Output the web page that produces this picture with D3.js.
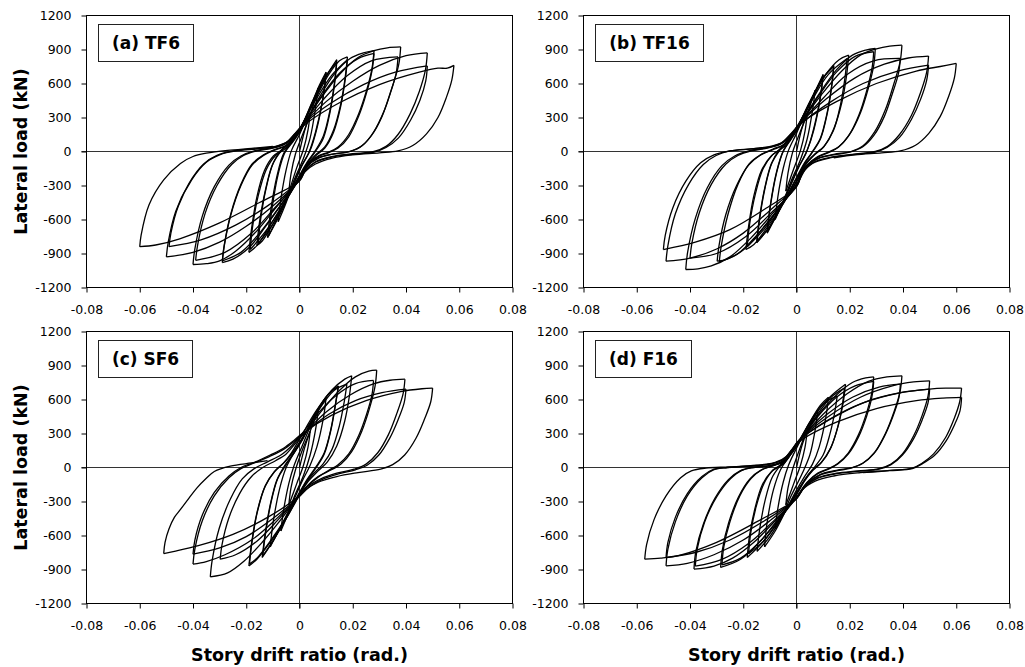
<!DOCTYPE html>
<html lang="en">
<head>
<meta charset="utf-8">
<title>Hysteresis curves</title>
<script src="https://d3js.org/d3.v7.min.js"></script>
<style>
  body { margin: 0; background: #fff; }
  svg { display: block; }
  text { font-family: "DejaVu Sans", Verdana, sans-serif; fill: #000; }
  .tick text { font-size: 12.5px; }
  .tick line { stroke: #000; }
  .axis-title, .panel-label { font-weight: bold; }
</style>
</head>
<body>
<div id="chart"></div>
<script>

// axis ticks
const xTicks = [-0.08, -0.06, -0.04, -0.02, 0, 0.02, 0.04, 0.06, 0.08];
const yTicks = [-1200, -900, -600, -300, 0, 300, 600, 900, 1200];
const panelLabels = ["(a) TF6", "(b) TF16", "(c) SF6", "(d) F16"];
const xTitle = "Story drift ratio (rad.)";
const yTitle = "Lateral load (kN)";

// each branch runs from one load reversal to the next: [drift (rad), load (kN)]
const tf6 = [
  [[0,0],[0.002,190],[0.004,340]],
  [[0.0032,190],[0.0015,20],[-0.001,-140],[-0.004,-360]],
  [[-0.0032,-200],[-0.0015,-20],[0.001,140],[0.004,320],[0.007,560]],
  [[0.006,380],[0.004,120],[0.0015,-60],[-0.002,-250],[-0.005,-450],[-0.008,-620]],
  [[-0.007,-420],[-0.005,-160],[-0.003,10],[0,150],[0.004,380],[0.007,560],[0.010,700]],
  [[0.009,500],[0.0065,200],[0.004,10],[0.001,-120],[-0.003,-330],[-0.007,-540],[-0.012,-760]],
  [[-0.0108,-520],[-0.0085,-220],[-0.006,-20],[-0.003,80],[0,180],[0.005,450],[0.010,690]],
  [[0.0088,470],[0.006,170],[0.0035,-10],[0.0005,-140],[-0.004,-380],[-0.008,-570],[-0.0115,-740]],
  [[-0.0103,-500],[-0.008,-200],[-0.0055,-10],[-0.002,100],[0.001,210],[0.006,480],[0.011,700],[0.014,810]],
  [[0.0132,620],[0.0115,370],[0.009,140],[0.006,10],[0.003,-90],[0,-210],[-0.005,-420],[-0.010,-640],[-0.014,-790],[-0.016,-830]],
  [[-0.015,-620],[-0.0128,-340],[-0.0102,-120],[-0.007,10],[-0.003,90],[0,190],[0.005,440],[0.010,670],[0.014,790]],
  [[0.0132,600],[0.0115,350],[0.009,120],[0.006,0],[0.003,-100],[0,-220],[-0.005,-430],[-0.010,-640],[-0.0155,-810]],
  [[-0.0146,-600],[-0.0125,-320],[-0.0098,-100],[-0.0065,15],[-0.003,95],[0,195],[0.005,420],[0.011,680],[0.015,800],[0.018,835]],
  [[0.0172,660],[0.0155,420],[0.0128,190],[0.0095,40],[0.006,-30],[0.003,-110],[0,-230],[-0.005,-430],[-0.011,-650],[-0.016,-830],[-0.019,-890]],
  [[-0.018,-680],[-0.016,-400],[-0.0132,-170],[-0.0098,-40],[-0.006,25],[-0.003,90],[0,200],[0.006,450],[0.012,670],[0.018,810]],
  [[0.0172,640],[0.0155,400],[0.0128,170],[0.0095,30],[0.006,-40],[0.003,-120],[0,-240],[-0.006,-460],[-0.012,-680],[-0.0185,-865]],
  [[-0.0176,-660],[-0.0155,-390],[-0.0125,-160],[-0.009,-35],[-0.005,30],[-0.002,110],[0.001,210],[0.007,460],[0.013,680],[0.019,820],[0.024,870],[0.028,890]],
  [[0.0272,730],[0.0252,540],[0.0222,330],[0.0185,150],[0.0145,40],[0.011,-5],[0.007,-40],[0.003,-110],[0,-230],[-0.006,-440],[-0.013,-670],[-0.019,-850],[-0.025,-950],[-0.029,-980]],
  [[-0.0283,-840],[-0.0258,-560],[-0.022,-300],[-0.0178,-120],[-0.0135,-35],[-0.009,15],[-0.005,50],[-0.002,130],[0.001,220],[0.008,480],[0.015,690],[0.022,820],[0.028,865]],
  [[0.0272,710],[0.0252,520],[0.0222,310],[0.0185,130],[0.0145,30],[0.011,-10],[0.007,-45],[0.003,-120],[0,-240],[-0.007,-470],[-0.015,-720],[-0.022,-890],[-0.029,-965]],
  [[-0.0283,-830],[-0.0258,-550],[-0.022,-290],[-0.0178,-110],[-0.0135,-30],[-0.009,20],[-0.005,55],[-0.002,140],[0.001,225],[0.008,470],[0.015,680],[0.022,830],[0.028,890],[0.033,915],[0.038,923]],
  [[0.0373,770],[0.035,580],[0.0318,360],[0.0278,170],[0.0235,50],[0.019,0],[0.013,-20],[0.007,-55],[0.003,-120],[0,-240],[-0.008,-470],[-0.016,-700],[-0.024,-880],[-0.03,-965],[-0.035,-990],[-0.04,-997]],
  [[-0.0393,-860],[-0.0365,-570],[-0.032,-310],[-0.0265,-120],[-0.022,-40],[-0.017,5],[-0.011,30],[-0.006,60],[-0.002,150],[0.001,230],[0.009,460],[0.018,670],[0.027,800],[0.037,835]],
  [[0.0363,690],[0.034,510],[0.031,310],[0.027,140],[0.0228,40],[0.018,-5],[0.012,-25],[0.007,-60],[0.003,-130],[0,-250],[-0.009,-490],[-0.018,-720],[-0.028,-890],[-0.039,-960]],
  [[-0.0383,-830],[-0.0355,-550],[-0.031,-300],[-0.0255,-115],[-0.021,-35],[-0.016,5],[-0.01,30],[-0.005,70],[-0.002,150],[0.001,230],[0.01,440],[0.02,620],[0.03,760],[0.04,845],[0.048,870]],
  [[0.0473,720],[0.045,530],[0.0415,330],[0.037,150],[0.0325,45],[0.028,0],[0.02,-20],[0.012,-45],[0.006,-90],[0.002,-170],[0,-250],[-0.01,-480],[-0.02,-660],[-0.03,-800],[-0.04,-890],[-0.05,-930]],
  [[-0.0493,-800],[-0.0465,-530],[-0.0415,-280],[-0.036,-110],[-0.031,-35],[-0.025,5],[-0.016,25],[-0.009,45],[-0.004,90],[-0.001,170],[0.002,250],[0.012,430],[0.024,590],[0.036,700],[0.048,755]],
  [[0.0474,620],[0.0452,450],[0.0418,280],[0.0372,120],[0.0325,35],[0.028,-5],[0.02,-25],[0.012,-50],[0.006,-95],[0.002,-180],[0,-255],[-0.012,-480],[-0.024,-650],[-0.037,-780],[-0.049,-840]],
  [[-0.0483,-720],[-0.0455,-480],[-0.0405,-250],[-0.035,-95],[-0.03,-30],[-0.024,5],[-0.015,25],[-0.008,50],[-0.003,110],[0,190],[0.003,255],[0.015,430],[0.03,590],[0.045,700],[0.052,735],[0.0555,735],[0.058,760]],
  [[0.0572,630],[0.0552,480],[0.052,300],[0.0477,155],[0.0427,55],[0.037,5],[0.03,-12],[0.02,-30],[0.012,-60],[0.006,-110],[0.002,-180],[0,-260],[-0.015,-450],[-0.03,-630],[-0.045,-770],[-0.054,-825],[-0.06,-840]],
  [[-0.0595,-740],[-0.0565,-470],[-0.051,-250],[-0.0447,-105],[-0.04,-44],[-0.035,-15],[-0.027,10],[-0.018,28],[-0.01,45]]
];

const tf16 = [
  [[0,0],[0.002,200],[0.004,330]],
  [[0.0032,180],[0.0015,10],[-0.001,-150],[-0.004,-350]],
  [[-0.0032,-190],[-0.0015,-10],[0.001,150],[0.004,330],[0.007,540]],
  [[0.006,360],[0.004,110],[0.0015,-70],[-0.002,-260],[-0.005,-440],[-0.008,-600]],
  [[-0.007,-400],[-0.005,-150],[-0.003,10],[0,160],[0.005,430],[0.010,680]],
  [[0.009,480],[0.0065,190],[0.004,10],[0.001,-130],[-0.003,-340],[-0.007,-540],[-0.011,-720]],
  [[-0.0098,-480],[-0.0075,-190],[-0.005,0],[-0.002,110],[0.001,220],[0.006,470],[0.010,670]],
  [[0.0088,460],[0.006,160],[0.0035,-20],[0.0005,-150],[-0.004,-390],[-0.008,-580],[-0.011,-710]],
  [[-0.0098,-470],[-0.0075,-180],[-0.005,5],[-0.002,115],[0.001,225],[0.006,480],[0.011,680],[0.014,760]],
  [[0.0132,580],[0.0115,340],[0.009,120],[0.006,0],[0.003,-100],[0,-230],[-0.005,-450],[-0.010,-660],[-0.015,-806]],
  [[-0.014,-600],[-0.012,-330],[-0.0095,-110],[-0.0065,15],[-0.003,100],[0,200],[0.005,440],[0.010,650],[0.014,750]],
  [[0.0132,570],[0.0115,330],[0.009,110],[0.006,-5],[0.003,-110],[0,-240],[-0.005,-460],[-0.010,-660],[-0.0148,-800]],
  [[-0.0138,-590],[-0.0118,-320],[-0.0092,-100],[-0.006,20],[-0.003,105],[0,205],[0.005,430],[0.011,680],[0.016,810],[0.0196,850]],
  [[0.0188,670],[0.017,430],[0.014,200],[0.0105,50],[0.007,-20],[0.003,-120],[0,-260],[-0.005,-460],[-0.011,-670],[-0.016,-820],[-0.019,-865]],
  [[-0.018,-660],[-0.016,-390],[-0.013,-160],[-0.0095,-40],[-0.006,25],[-0.003,100],[0,210],[0.006,460],[0.012,680],[0.019,820]],
  [[0.0182,650],[0.0165,410],[0.0138,180],[0.0102,40],[0.007,-25],[0.003,-130],[0,-270],[-0.006,-480],[-0.012,-680],[-0.0185,-840]],
  [[-0.0176,-640],[-0.0155,-380],[-0.0125,-150],[-0.009,-30],[-0.005,35],[-0.002,120],[0.001,225],[0.008,490],[0.015,720],[0.021,850],[0.026,895],[0.0296,909]],
  [[0.029,760],[0.027,560],[0.024,340],[0.0202,160],[0.016,45],[0.012,-5],[0.008,-45],[0.004,-120],[0,-290],[-0.006,-480],[-0.013,-690],[-0.02,-870],[-0.026,-950],[-0.0298,-968]],
  [[-0.0291,-830],[-0.0266,-560],[-0.0225,-300],[-0.018,-120],[-0.0138,-35],[-0.009,15],[-0.005,55],[-0.002,140],[0.001,230],[0.008,480],[0.015,700],[0.022,840],[0.029,880]],
  [[0.0284,740],[0.0264,540],[0.0234,320],[0.0196,140],[0.0156,35],[0.012,-10],[0.008,-50],[0.004,-130],[0,-300],[-0.007,-510],[-0.015,-740],[-0.022,-900],[-0.029,-975]],
  [[-0.0283,-840],[-0.0258,-560],[-0.022,-290],[-0.0178,-110],[-0.0135,-30],[-0.009,20],[-0.005,60],[-0.002,145],[0.001,235],[0.009,490],[0.017,710],[0.024,850],[0.03,905],[0.035,930],[0.0396,938]],
  [[0.0389,790],[0.0366,600],[0.0334,370],[0.0294,175],[0.025,50],[0.0205,0],[0.014,-25],[0.008,-60],[0.003,-140],[0,-300],[-0.008,-520],[-0.017,-760],[-0.025,-930],[-0.032,-1010],[-0.037,-1035],[-0.0416,-1041]],
  [[-0.0409,-890],[-0.038,-590],[-0.0335,-320],[-0.028,-125],[-0.0232,-40],[-0.018,5],[-0.012,30],[-0.006,65],[-0.002,155],[0.001,240],[0.01,470],[0.019,680],[0.029,800],[0.039,821]],
  [[0.0383,690],[0.036,510],[0.033,310],[0.029,140],[0.0248,40],[0.02,-5],[0.014,-30],[0.008,-65],[0.003,-150],[0,-310],[-0.009,-530],[-0.019,-750],[-0.03,-900],[-0.04,-940]],
  [[-0.0393,-810],[-0.0365,-540],[-0.032,-290],[-0.0265,-110],[-0.022,-35],[-0.017,5],[-0.011,30],[-0.006,70],[-0.002,160],[0.001,240],[0.011,460],[0.022,650],[0.033,770],[0.042,825],[0.0496,842]],
  [[0.0489,700],[0.0466,520],[0.0432,320],[0.0387,150],[0.0342,45],[0.0296,0],[0.021,-25],[0.013,-50],[0.006,-100],[0.002,-190],[0,-300],[-0.01,-520],[-0.02,-720],[-0.03,-860],[-0.04,-940],[-0.049,-968]],
  [[-0.0483,-830],[-0.0455,-550],[-0.0405,-290],[-0.035,-115],[-0.0302,-35],[-0.025,5],[-0.016,25],[-0.009,45],[-0.004,95],[-0.001,175],[0.002,250],[0.013,440],[0.025,600],[0.038,710],[0.0496,762]],
  [[0.0489,630],[0.0466,460],[0.0432,285],[0.0387,125],[0.034,35],[0.0295,-5],[0.021,-28],[0.013,-55],[0.006,-105],[0.002,-200],[0,-310],[-0.012,-510],[-0.025,-690],[-0.038,-800],[-0.05,-865]],
  [[-0.0493,-740],[-0.0465,-500],[-0.0415,-260],[-0.036,-100],[-0.031,-30],[-0.025,5],[-0.016,25],[-0.009,50],[-0.004,100],[-0.001,180],[0.002,255],[0.015,440],[0.03,600],[0.045,710],[0.054,750],[0.06,777]],
  [[0.0593,650],[0.0572,490],[0.054,310],[0.0497,160],[0.0447,55],[0.039,5],[0.032,-12],[0.022,-30],[0.014,-55]]
];

const sf6 = [
  [[0,0],[0.002,180],[0.004,320]],
  [[0.0032,180],[0.0015,20],[-0.001,-140],[-0.004,-330]],
  [[-0.0032,-180],[-0.0015,-20],[0.001,150],[0.004,320],[0.007,500]],
  [[0.006,330],[0.004,110],[0.0015,-70],[-0.002,-260],[-0.0045,-420],[-0.007,-560]],
  [[-0.006,-380],[-0.004,-140],[-0.002,20],[0.001,190],[0.005,410],[0.010,620]],
  [[0.009,440],[0.0065,180],[0.004,20],[0.001,-120],[-0.003,-330],[-0.007,-520],[-0.011,-700]],
  [[-0.0098,-470],[-0.0075,-190],[-0.005,0],[-0.002,130],[0.001,240],[0.006,480],[0.011,650],[0.0146,720]],
  [[0.0135,560],[0.0118,340],[0.0093,130],[0.0063,10],[0.003,-100],[0,-220],[-0.005,-440],[-0.010,-650],[-0.014,-794]],
  [[-0.013,-600],[-0.011,-330],[-0.0085,-110],[-0.0055,20],[-0.002,130],[0.001,245],[0.006,480],[0.011,650],[0.0146,715]],
  [[0.0135,550],[0.0118,330],[0.0093,120],[0.0063,0],[0.003,-110],[0,-230],[-0.005,-450],[-0.010,-650],[-0.0138,-780]],
  [[-0.0128,-590],[-0.0108,-320],[-0.0082,-100],[-0.005,25],[-0.002,135],[0.001,250],[0.007,500],[0.013,680],[0.0178,735]],
  [[0.0168,580],[0.015,370],[0.0122,160],[0.0088,30],[0.005,-60],[0.002,-150],[0,-240],[-0.005,-450],[-0.011,-660],[-0.016,-810],[-0.019,-868]],
  [[-0.018,-670],[-0.016,-400],[-0.013,-170],[-0.0095,-40],[-0.006,40],[-0.003,130],[0,250],[0.006,490],[0.012,680],[0.017,780],[0.0196,809]],
  [[0.0188,640],[0.017,410],[0.014,190],[0.0105,50],[0.007,-30],[0.003,-130],[0,-240],[-0.005,-440],[-0.011,-650],[-0.016,-800],[-0.0188,-850]],
  [[-0.0178,-650],[-0.0158,-390],[-0.0128,-160],[-0.0092,-30],[-0.0055,50],[-0.002,150],[0.001,260],[0.008,490],[0.015,680],[0.021,800],[0.026,850],[0.029,859]],
  [[0.0284,720],[0.0264,530],[0.0234,320],[0.0196,140],[0.0156,30],[0.012,-20],[0.007,-80],[0.003,-160],[0,-240],[-0.007,-460],[-0.014,-660],[-0.021,-830],[-0.027,-930],[-0.0335,-965]],
  [[-0.0328,-820],[-0.0302,-540],[-0.026,-280],[-0.0215,-100],[-0.017,-10],[-0.012,50],[-0.007,110],[-0.003,190],[0,270],[0.007,480],[0.014,640],[0.021,740],[0.0278,768]],
  [[0.0272,640],[0.0252,470],[0.0222,280],[0.0185,120],[0.0145,25],[0.011,-25],[0.007,-85],[0.003,-165],[0,-245],[-0.008,-460],[-0.016,-650],[-0.024,-770],[-0.0298,-809]],
  [[-0.0291,-680],[-0.0266,-450],[-0.0225,-230],[-0.018,-80],[-0.0138,0],[-0.009,60],[-0.005,120],[-0.002,200],[0.001,280],[0.01,490],[0.019,640],[0.028,740],[0.034,770],[0.0396,779]],
  [[0.0389,650],[0.0366,480],[0.0334,290],[0.0294,130],[0.025,30],[0.0205,-15],[0.014,-50],[0.008,-100],[0.003,-170],[0,-250],[-0.009,-460],[-0.018,-640],[-0.028,-770],[-0.035,-830],[-0.04,-853]],
  [[-0.0393,-720],[-0.0365,-470],[-0.032,-250],[-0.0265,-90],[-0.022,-10],[-0.017,40],[-0.011,100],[-0.006,160],[-0.002,230],[0.001,290],[0.011,470],[0.021,590],[0.031,660],[0.04,691]],
  [[0.0393,570],[0.037,420],[0.0338,255],[0.0298,110],[0.0254,20],[0.021,-20],[0.015,-55],[0.009,-100],[0.004,-165],[0,-255],[-0.01,-450],[-0.02,-610],[-0.03,-710],[-0.04,-765]],
  [[-0.0393,-640],[-0.0365,-420],[-0.032,-220],[-0.0265,-75],[-0.022,0],[-0.017,45],[-0.011,110],[-0.006,170],[-0.002,240],[0.001,300],[0.012,460],[0.025,590],[0.038,670],[0.046,695],[0.05,700]],
  [[0.0493,580],[0.047,430],[0.0438,260],[0.0395,110],[0.035,25],[0.0305,-15],[0.022,-45],[0.014,-80],[0.007,-130],[0.002,-200],[0,-250],[-0.012,-440],[-0.025,-590],[-0.038,-690],[-0.047,-740],[-0.051,-759]],
  [[-0.0505,-660],[-0.049,-540],[-0.047,-440],[-0.0447,-370],[-0.0415,-270],[-0.0385,-180],[-0.035,-95],[-0.032,-35],[-0.026,12],[-0.018,40],[-0.012,60]]
];

const f16 = [
  [[0,0],[0.002,190],[0.004,320]],
  [[0.0032,180],[0.0015,20],[-0.001,-140],[-0.004,-330]],
  [[-0.0032,-180],[-0.0015,-20],[0.001,150],[0.004,330],[0.008,500]],
  [[0.007,330],[0.005,110],[0.002,-60],[-0.002,-250],[-0.005,-410],[-0.008,-540]],
  [[-0.007,-360],[-0.005,-130],[-0.003,20],[0,170],[0.005,400],[0.009,550],[0.012,620]],
  [[0.011,440],[0.0085,180],[0.006,30],[0.003,-80],[0,-200],[-0.004,-380],[-0.008,-560],[-0.012,-700]],
  [[-0.011,-480],[-0.0087,-200],[-0.006,-20],[-0.003,90],[0,190],[0.005,400],[0.010,560],[0.0153,632]],
  [[0.0143,480],[0.0125,290],[0.010,110],[0.007,10],[0.004,-80],[0,-220],[-0.005,-420],[-0.010,-610],[-0.0148,-740]],
  [[-0.0138,-540],[-0.0118,-290],[-0.0092,-90],[-0.006,20],[-0.003,100],[0,200],[0.006,430],[0.012,610],[0.0184,735]],
  [[0.0176,580],[0.0158,380],[0.013,180],[0.0095,50],[0.006,-20],[0.003,-110],[0,-230],[-0.006,-440],[-0.012,-640],[-0.0185,-794]],
  [[-0.0177,-610],[-0.0157,-370],[-0.0128,-150],[-0.0092,-30],[-0.0055,30],[-0.002,120],[0.001,220],[0.007,440],[0.013,620],[0.018,700]],
  [[0.0172,550],[0.0154,350],[0.0126,160],[0.0092,40],[0.006,-30],[0.003,-120],[0,-240],[-0.006,-450],[-0.012,-640],[-0.018,-760]],
  [[-0.0172,-580],[-0.0152,-350],[-0.0122,-140],[-0.0088,-25],[-0.005,30],[-0.002,120],[0.001,225],[0.008,460],[0.015,640],[0.021,750],[0.026,790],[0.029,800]],
  [[0.0283,660],[0.0263,480],[0.0233,290],[0.0195,130],[0.0155,35],[0.012,-10],[0.008,-50],[0.004,-130],[0,-260],[-0.007,-460],[-0.014,-660],[-0.021,-810],[-0.0285,-882]],
  [[-0.0278,-720],[-0.0255,-490],[-0.0218,-260],[-0.0175,-100],[-0.0135,-25],[-0.009,15],[-0.005,50],[-0.002,130],[0.001,230],[0.008,450],[0.015,620],[0.022,720],[0.029,760]],
  [[0.0283,620],[0.0263,450],[0.0233,270],[0.0195,120],[0.0155,30],[0.012,-15],[0.008,-55],[0.004,-135],[0,-265],[-0.007,-470],[-0.014,-660],[-0.021,-800],[-0.028,-860]],
  [[-0.0273,-700],[-0.025,-480],[-0.0213,-250],[-0.017,-95],[-0.013,-20],[-0.009,15],[-0.005,55],[-0.002,135],[0.001,235],[0.01,470],[0.019,650],[0.027,760],[0.034,800],[0.0396,809]],
  [[0.0389,670],[0.0366,490],[0.0334,300],[0.0294,135],[0.025,40],[0.021,0],[0.015,-25],[0.009,-60],[0.004,-140],[0,-265],[-0.008,-470],[-0.016,-660],[-0.024,-800],[-0.031,-870],[-0.0385,-897]],
  [[-0.0378,-740],[-0.035,-500],[-0.0306,-270],[-0.0255,-105],[-0.0212,-30],[-0.017,0],[-0.011,15],[-0.006,45],[-0.002,130],[0.001,235],[0.011,460],[0.021,620],[0.031,710],[0.039,735]],
  [[0.0384,610],[0.0362,450],[0.033,275],[0.029,120],[0.0248,35],[0.0205,-5],[0.015,-30],[0.009,-65],[0.004,-145],[0,-270],[-0.009,-480],[-0.018,-670],[-0.028,-810],[-0.038,-870]],
  [[-0.0373,-720],[-0.0345,-480],[-0.030,-260],[-0.0248,-100],[-0.0205,-25],[-0.016,0],[-0.01,15],[-0.005,50],[-0.002,130],[0.001,240],[0.012,450],[0.024,620],[0.036,720],[0.044,755],[0.05,765]],
  [[0.0494,630],[0.0472,460],[0.044,280],[0.0398,120],[0.0355,30],[0.031,-10],[0.023,-30],[0.015,-50],[0.008,-90],[0.003,-170],[0,-270],[-0.01,-470],[-0.02,-640],[-0.031,-770],[-0.041,-845],[-0.049,-868]],
  [[-0.0483,-720],[-0.0455,-480],[-0.041,-250],[-0.0355,-90],[-0.031,-20],[-0.026,0],[-0.018,12],[-0.01,30],[-0.005,70],[-0.002,150],[0.001,240],[0.013,430],[0.026,580],[0.039,660],[0.05,691]],
  [[0.0494,570],[0.0472,420],[0.044,255],[0.0398,110],[0.0355,25],[0.031,-15],[0.023,-35],[0.015,-55],[0.008,-95],[0.003,-175],[0,-275],[-0.012,-470],[-0.025,-640],[-0.038,-750],[-0.049,-794]],
  [[-0.0483,-660],[-0.0455,-440],[-0.041,-230],[-0.0355,-80],[-0.031,-15],[-0.026,0],[-0.018,12],[-0.01,30],[-0.005,70],[-0.002,150],[0.001,240],[0.012,420],[0.025,570],[0.038,655],[0.05,692],[0.056,700],[0.062,700]],
  [[0.0613,580],[0.0592,430],[0.056,265],[0.0515,120],[0.047,35],[0.0435,-5],[0.035,-25],[0.024,-45],[0.014,-75],[0.007,-120],[0.002,-200],[0,-275],[-0.015,-480],[-0.03,-660],[-0.044,-775],[-0.051,-800],[-0.057,-809]],
  [[-0.0563,-680],[-0.0535,-460],[-0.049,-250],[-0.0435,-90],[-0.0395,-30],[-0.034,-5],[-0.025,5],[-0.015,20],[-0.008,45],[-0.003,110],[0,200],[0.002,245],[0.015,400],[0.03,520],[0.045,590],[0.055,612],[0.062,618]],
  [[0.0614,500],[0.0594,380],[0.0562,235],[0.0518,105],[0.047,30],[0.0435,-10],[0.035,-28],[0.025,-45]]
];


const chartApp = {};

chartApp.width = 1025;
chartApp.height = 667;

// plot areas, left/right columns and top/bottom rows
chartApp.cells = [
  {x0: 86.5,  x1: 512.5,  y0: 15.5,  y1: 287.5, yTitle: true,  xTitle: false},
  {x0: 583.5, x1: 1009.5, y0: 15.5,  y1: 287.5, yTitle: false, xTitle: false},
  {x0: 86.5,  x1: 512.5,  y0: 331.5, y1: 603.5, yTitle: true,  xTitle: true},
  {x0: 583.5, x1: 1009.5, y0: 331.5, y1: 603.5, yTitle: false, xTitle: true}
];

chartApp.buildPanel = (svg, cell, label, branches) => {

  const x = d3.scaleLinear().domain([-0.08, 0.08]).range([cell.x0, cell.x1]);
  const y = d3.scaleLinear().domain([-1200, 1200]).range([cell.y1, cell.y0]);

  const g = svg.append("g");

  // zero lines
  g.append("line")
    .attr("x1", x(0)).attr("x2", x(0))
    .attr("y1", cell.y0).attr("y2", cell.y1 + 5)
    .attr("stroke", "#333").attr("stroke-width", 1);
  g.append("line")
    .attr("x1", cell.x0 - 5).attr("x2", cell.x1)
    .attr("y1", y(0)).attr("y2", y(0))
    .attr("stroke", "#333").attr("stroke-width", 1);

  // hysteresis curve, one path per branch so reversals stay sharp
  const line = d3.line()
    .x(d => x(d[0]))
    .y(d => y(d[1]))
    .curve(d3.curveCatmullRom.alpha(0.5));

  let last = null;
  branches.forEach(b => {
    const pts = last ? [last].concat(b) : b;
    g.append("path")
      .attr("d", line(pts))
      .attr("fill", "none")
      .attr("stroke", "#000")
      .attr("stroke-width", 1.3)
      .attr("stroke-linejoin", "round");
    last = b[b.length - 1];
  });

  // frame
  g.append("rect")
    .attr("x", cell.x0).attr("y", cell.y0)
    .attr("width", cell.x1 - cell.x0).attr("height", cell.y1 - cell.y0)
    .attr("fill", "none").attr("stroke", "#000").attr("stroke-width", 1);

  // axes
  g.append("g")
    .attr("transform", "translate(0," + cell.y1 + ")")
    .call(d3.axisBottom(x).tickValues(xTicks).tickSize(5).tickPadding(13).tickFormat(d => String(d)))
    .call(a => a.select(".domain").remove())
    .attr("font-family", null).attr("font-size", null);

  g.append("g")
    .attr("transform", "translate(" + cell.x0 + ",0)")
    .call(d3.axisLeft(y).tickValues(yTicks).tickSize(5).tickPadding(10).tickFormat(d => String(d)))
    .call(a => a.select(".domain").remove())
    .attr("font-family", null).attr("font-size", null);

  // panel label in a box
  const lg = g.append("g");
  const bx = cell.x0 + 12, by = cell.y0 + 9, bh = 37;
  const box = lg.append("rect")
    .attr("y", by).attr("height", bh).attr("x", bx)
    .attr("fill", "#fff").attr("stroke", "#222").attr("stroke-width", 1);
  const txt = lg.append("text")
    .attr("class", "panel-label")
    .attr("y", by + bh / 2)
    .attr("dy", "0.36em")
    .attr("font-size", "17px")
    .attr("text-anchor", "middle")
    .text(label);
  const tw = txt.node().getComputedTextLength();
  box.attr("width", Math.round(tw + 27));
  txt.attr("x", bx + Math.round(tw + 27) / 2);

  // axis titles
  if (cell.yTitle) {
    svg.append("text")
      .attr("class", "axis-title")
      .attr("transform", "translate(27," + ((cell.y0 + cell.y1) / 2) + ") rotate(-90)")
      .attr("text-anchor", "middle")
      .attr("font-size", "17.5px")
      .text(yTitle);
  }
  if (cell.xTitle) {
    svg.append("text")
      .attr("class", "axis-title")
      .attr("x", x(0))
      .attr("y", 661)
      .attr("text-anchor", "middle")
      .attr("font-size", "17.5px")
      .text(xTitle);
  }
};

chartApp.buildChart = () => {
  d3.select("#chart").html("");
  const svg = d3.select("#chart")
    .append("svg")
      .attr("width", chartApp.width)
      .attr("height", chartApp.height);

  const series = [tf6, tf16, sf6, f16];
  chartApp.cells.forEach((cell, i) => {
    chartApp.buildPanel(svg, cell, panelLabels[i], series[i]);
  });
};

chartApp.buildChart();

</script>
</body>
</html>
